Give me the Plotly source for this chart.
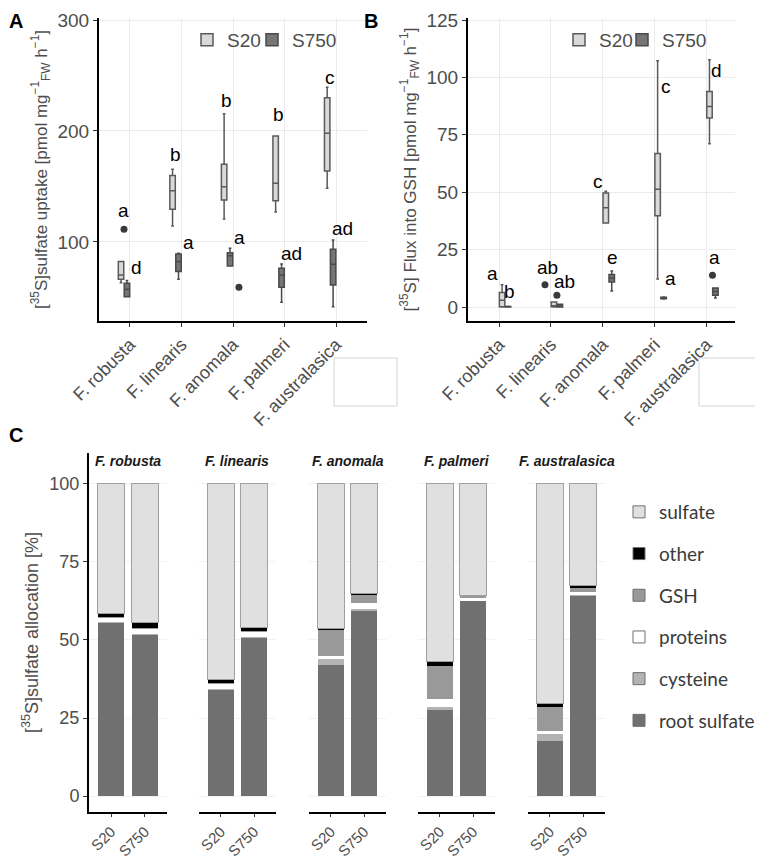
import plotly.graph_objects as go

# the page body keeps its default 8px margin, so the figure is drawn 8px smaller
OFF = 8
W, H = 763 - OFF, 860 - OFF

species = ["F. robusta", "F. linearis", "F. anomala", "F. palmeri", "F. australasica"]
treatments = ["S20", "S750"]

# panel A: [35S]sulfate uptake, box statistics
uptake_s20_q1 = [66.4, 129.4, 137.8, 137.2, 164.0]
uptake_s20_med = [70.3, 146.2, 149.8, 152.9, 197.9]
uptake_s20_q3 = [82.3, 159.8, 170.0, 195.5, 230.0]
uptake_s20_lo = [63.3, 114.4, 120.7, 127.0, 148.3]
uptake_s20_hi = [82.3, 165.5, 215.6, 195.5, 239.3]
uptake_s750_q1 = [50.7, 73.3, 78.4, 59.2, 61.3]
uptake_s750_med = [57.4, 82.3, 87.7, 70.3, 79.9]
uptake_s750_q3 = [62.8, 89.2, 90.4, 76.3, 93.4]
uptake_s750_lo = [50.7, 66.4, 78.4, 45.7, 41.7]
uptake_s750_hi = [65.2, 89.8, 94.3, 80.2, 101.8]
uptake_out_s20 = {0: [111.4]}
uptake_out_s750 = {2: [59.2]}
uptake_let_s20 = ["a", "b", "b", "b", "c"]
uptake_let_s20_y = [128.8, 178.4, 227.9, 214.4, 248.6]
uptake_let_s750 = ["d", "a", "a", "ad", "ad"]
uptake_let_s750_y = [76.6, 99.1, 103.6, 89.2, 111.7]

# panel B: flux into GSH
flux_s20_q1 = [0.1, 0.1, 36.6, 39.8, 82.3]
flux_s20_med = [2.9, 0.4, 43.2, 51.3, 87.4]
flux_s20_q3 = [6.3, 2.2, 49.7, 66.9, 93.9]
flux_s20_lo = [0.0, 0.0, 36.6, 12.2, 71.1]
flux_s20_hi = [9.7, 2.2, 50.4, 107.3, 107.7]
flux_s750_q1 = [0.0, 0.0, 10.9, 3.6, 5.1]
flux_s750_med = [0.1, 0.4, 12.6, 3.9, 6.8]
flux_s750_q3 = [0.2, 1.2, 14.2, 4.2, 8.3]
flux_s750_lo = [0.0, 0.0, 7.0, 3.5, 3.9]
flux_s750_hi = [0.3, 1.2, 15.7, 4.4, 8.3]
flux_out_s20 = {1: [9.7]}
flux_out_s750 = {1: [5.1], 4: [13.8]}
flux_let_s20 = ["a", "ab", "c", "c", "d"]
flux_let_s20_y = [14.6, 17.2, 54.7, 96.1, 103.1]
flux_let_s20_dx = [-0.13, -0.07, -0.09, 0.21, 0.2]
flux_let_s750 = ["b", "ab", "e", "a", "a"]
flux_let_s750_y = [6.6, 11.0, 21.5, 12.4, 21.5]
flux_let_s750_dx = [0.2, 0.27, 0.19, 0.3, 0.15]

# panel C: allocation (%), bottom to top of each stack
components = ["root sulfate", "cysteine", "proteins", "GSH", "other", "sulfate"]
alloc_s20 = {
    "root sulfate": [55.5, 34.2, 42.0, 27.6, 17.6],
    "cysteine": [0.3, 0.2, 1.9, 1.0, 2.3],
    "proteins": [1.3, 1.8, 1.0, 2.6, 0.9],
    "GSH": [0.2, 0.1, 8.6, 10.5, 7.8],
    "other": [1.2, 1.2, 0.2, 1.3, 0.9],
    "sulfate": [41.5, 62.5, 46.3, 57.0, 70.5],
}
alloc_s750 = {
    "root sulfate": [51.6, 50.8, 59.6, 62.6, 64.3],
    "cysteine": [0.2, 0.2, 0.2, 0.1, 0.1],
    "proteins": [2.0, 1.8, 2.0, 0.6, 1.1],
    "GSH": [0.1, 0.1, 2.9, 0.9, 1.1],
    "other": [1.6, 1.0, 0.2, 0.1, 0.8],
    "sulfate": [44.5, 46.1, 35.1, 35.7, 32.6],
}
comp_fill = {"root sulfate": "#707070", "cysteine": "#b3b3b3", "proteins": "#ffffff",
             "GSH": "#999999", "other": "#000000", "sulfate": "#e0e0e0"}

FONT = "Liberation Sans, Arial, sans-serif"
GRAY = "#4d4d4d"
S20_FILL, S20_LINE = "#d9d9d9", "#5a5a5a"
S750_FILL, S750_LINE = "#767676", "#4a4a4a"

box_gap = 0.54
box_group_gap = 0.08
dodge = (1 - box_gap) / 4
idx = list(range(len(species)))


def px(p):
    return (p - OFF) / W


def py(p):
    return 1 - (p - OFF) / H


fig = go.Figure()


def add_panel(xa, ya, legs, s20, s750, out20, out750):
    for name, stats, fill, line, leg in [("S20", s20, S20_FILL, S20_LINE, legs[0]),
                                         ("S750", s750, S750_FILL, S750_LINE, legs[1])]:
        q1, med, q3, lo, hi = stats
        fig.add_trace(go.Box(x=idx, q1=q1, median=med, q3=q3, lowerfence=lo, upperfence=hi,
                             name=name, fillcolor=fill, line=dict(color=line, width=1.5),
                             whiskerwidth=0.5, boxpoints=False, xaxis=xa, yaxis=ya, legend=leg,
                             hoverinfo="skip"))
    for out, sign in [(out20, -1), (out750, 1)]:
        xs, ys = [], []
        for i, vals in out.items():
            for v in vals:
                xs.append(i + sign * dodge)
                ys.append(v)
        fig.add_trace(go.Scatter(x=xs, y=ys, mode="markers", showlegend=False,
                                 marker=dict(color="#3a3a3a", size=7), xaxis=xa, yaxis=ya))


add_panel("x", "y", ("legend", "legend4"),
          (uptake_s20_q1, uptake_s20_med, uptake_s20_q3, uptake_s20_lo, uptake_s20_hi),
          (uptake_s750_q1, uptake_s750_med, uptake_s750_q3, uptake_s750_lo, uptake_s750_hi),
          uptake_out_s20, uptake_out_s750)
add_panel("x2", "y2", ("legend2", "legend5"),
          (flux_s20_q1, flux_s20_med, flux_s20_q3, flux_s20_lo, flux_s20_hi),
          (flux_s750_q1, flux_s750_med, flux_s750_q3, flux_s750_lo, flux_s750_hi),
          flux_out_s20, flux_out_s750)

# panel C facets
facet_px = [(89, 167), (199, 276), (309, 386), (418, 495), (528, 605)]
for k, sp in enumerate(species):
    for comp in components:
        lw = 1 if comp == "sulfate" else 0
        fig.add_trace(go.Bar(x=treatments, y=[alloc_s20[comp][k], alloc_s750[comp][k]],
                             name=comp, showlegend=False,
                             marker=dict(color=comp_fill[comp], line=dict(color="#a0a0a0", width=lw)),
                             xaxis="x%d" % (k + 3), yaxis="y%d" % (k + 3)))

# legend keys for panel C (outlined squares like the original key)
for r, comp in enumerate(reversed(components)):
    fig.add_trace(go.Bar(x=[None], y=[None], name=comp, legendgroup=comp, legend="legend3",
                         legendrank=r + 1, showlegend=True,
                         marker=dict(color=comp_fill[comp], line=dict(color="#6e6e6e", width=1)),
                         xaxis="x3", yaxis="y3"))

annotations = []
for ref, letters, ys, dxs in [
    ("", uptake_let_s20, uptake_let_s20_y, [-0.12] * 5),
    ("", uptake_let_s750, uptake_let_s750_y, [0.13] * 5),
    ("2", flux_let_s20, flux_let_s20_y, flux_let_s20_dx),
    ("2", flux_let_s750, flux_let_s750_y, flux_let_s750_dx),
]:
    for i, (t, yv, dx) in enumerate(zip(letters, ys, dxs)):
        annotations.append(dict(x=i + dx, y=yv, xref="x" + ref, yref="y" + ref, text=t,
                                showarrow=False, font=dict(size=19, color="black")))

for k, sp in enumerate(species):
    x0, x1 = facet_px[k]
    annotations.append(dict(x=px((x0 + x1) / 2), y=py(461), xref="paper", yref="paper",
                            xanchor="center", yanchor="middle",
                            text="<b><i>%s</i></b>" % sp, showarrow=False,
                            font=dict(size=14, color="#1a1a1a")))

for lab, xp, yp in [("A", 16, 21), ("B", 371, 21), ("C", 16, 435)]:
    annotations.append(dict(x=px(xp), y=py(yp), xref="paper", yref="paper", text="<b>%s</b>" % lab,
                            xanchor="center", yanchor="middle",
                            showarrow=False, font=dict(size=20, color="black")))

axis_common = dict(showline=True, linecolor="black", linewidth=2, ticks="outside", ticklen=4,
                   tickcolor="#333333", zeroline=False, automargin=False,
                   tickfont=dict(size=19, color=GRAY))


def key_legend(xp):
    return dict(orientation="h", x=px(xp), y=py(40), xanchor="left", yanchor="middle",
                traceorder="normal", bgcolor="rgba(0,0,0,0)", font=dict(size=19, color=GRAY))


layout = dict(
    width=W, height=H, margin=dict(l=0, r=0, t=0, b=0, autoexpand=False),
    paper_bgcolor="white", plot_bgcolor="white",
    font=dict(family=FONT, color=GRAY),
    boxmode="group", boxgap=box_gap, boxgroupgap=box_group_gap,
    barmode="stack", bargap=0.21,
    annotations=annotations,
    xaxis=dict(domain=[px(99), px(367)], anchor="y", range=[-0.6, 4.6], tickvals=idx, ticktext=species,
               tickangle=-45, showgrid=True, gridcolor="#ebebeb", **{**axis_common, "tickfont": dict(size=18, color=GRAY)}),
    yaxis=dict(domain=[py(321), py(18)], anchor="x", range=[28.8, 301.8], tickvals=[100, 200, 300],
               showgrid=True, gridcolor="#ebebeb",
               title=dict(text="[<sup>35</sup>S]sulfate uptake [pmol mg<sup>\u22121</sup><sub>FW</sub> h<sup>\u22121</sup>]",
                          font=dict(size=17, color=GRAY), standoff=6),
               **axis_common),
    xaxis2=dict(domain=[px(468), px(735)], anchor="y2", range=[-0.6, 4.55], tickvals=idx, ticktext=species,
                tickangle=-45, showgrid=True, gridcolor="#ebebeb", **{**axis_common, "tickfont": dict(size=18, color=GRAY)}),
    yaxis2=dict(domain=[py(321), py(18)], anchor="x2", range=[-6.1, 125.9], tickvals=[0, 25, 50, 75, 100, 125],
                showgrid=True, gridcolor="#ebebeb",
                title=dict(text="[<sup>35</sup>S] Flux into GSH [pmol mg<sup>\u22121</sup><sub>FW</sub> h<sup>\u22121</sup>]",
                           font=dict(size=17, color=GRAY), standoff=6),
                **axis_common),
    legend=key_legend(187),
    legend4=key_legend(252),
    legend2=key_legend(559),
    legend5=key_legend(622),
    legend3=dict(x=px(619), y=py(493), xanchor="left", yanchor="top", traceorder="grouped",
                 tracegroupgap=14, bgcolor="rgba(0,0,0,0)",
                 font=dict(family="Lato, Open Sans, sans-serif", size=19, color="#3a3a3a")),
    shapes=[
        dict(type="rect", xref="paper", yref="paper", x0=px(334), x1=px(397), y0=py(406), y1=py(358),
             line=dict(color="#d4d4d4", width=1), fillcolor="white", layer="below"),
        dict(type="rect", xref="paper", yref="paper", x0=px(699), x1=px(762), y0=py(406), y1=py(358),
             line=dict(color="#d4d4d4", width=1), fillcolor="white", layer="below"),
    ],
)

for k in range(5):
    x0, x1 = facet_px[k]
    xa = dict(domain=[px(x0), px(x1)], anchor="y%d" % (k + 3), type="category", range=[-0.66, 1.66],
              tickangle=-45, showgrid=False,
              **{**axis_common, "ticklen": 3, "tickfont": dict(size=15, color=GRAY)})
    ya = dict(domain=[py(812), py(453)], anchor="x%d" % (k + 3), range=[-5.1, 109.9],
              tickvals=[0, 25, 50, 75, 100], showgrid=True, gridcolor="#f2f2f2", zeroline=False,
              automargin=False)
    if k == 0:
        ya.update(showline=True, linecolor="black", linewidth=2, ticks="outside", ticklen=4,
                  tickcolor="#333333", tickfont=dict(size=18, color=GRAY),
                  title=dict(text="[<sup>35</sup>S]sulfate allocation [%]", font=dict(size=18, color=GRAY),
                             standoff=6))
    else:
        ya.update(showticklabels=False, showline=False, ticks="", matches="y3")
    layout["xaxis%d" % (k + 3)] = xa
    layout["yaxis%d" % (k + 3)] = ya

fig.update_layout(**layout)
fig.write_html("out.html")
